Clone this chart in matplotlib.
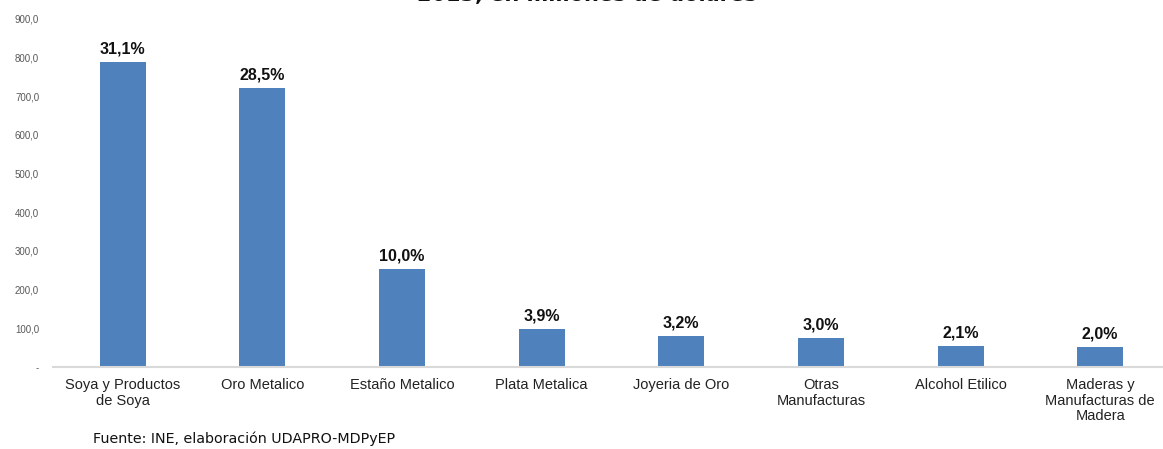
import matplotlib
matplotlib.use("Agg")
import matplotlib.pyplot as plt
from matplotlib.ticker import FuncFormatter

categories = ["Soya y Productos\nde Soya", "Oro Metalico", "Estaño Metalico", "Plata Metalica",
              "Joyeria de Oro", "Otras\nManufacturas", "Alcohol Etilico",
              "Maderas y\nManufacturas de\nMadera"]
values = [789.0, 722.0, 253.0, 98.0, 80.0, 75.0, 54.0, 51.0]
shares = ["31,1%", "28,5%", "10,0%", "3,9%", "3,2%", "3,0%", "2,1%", "2,0%"]
yticks = [0, 100, 200, 300, 400, 500, 600, 700, 800, 900]

W, H = 1163, 449
fig = plt.figure(figsize=(W/100, H/100), dpi=100)
# axes in pixel coords: left 53, right 1170, bottom y=367, top y=19
ax = fig.add_axes([53/W, (H-367)/H, (1170-53)/W, (367-19)/H])
x = list(range(len(categories)))
ax.bar(x, values, width=0.33, color="#4F81BD", zorder=2)
ax.set_xlim(-0.5, len(categories)-0.5)
ax.set_ylim(0, 900)
ax.set_yticks(yticks)
ax.yaxis.set_major_formatter(FuncFormatter(lambda v, p: "-" if v == 0 else f"{v:.1f}".replace(".", ",")))
ax.tick_params(axis="y", length=0, labelsize=7, labelcolor="#595959", pad=10)
ax.tick_params(axis="x", length=0, pad=8)
ax.set_xticks(x)
ax.set_xticklabels(categories, fontsize=10.5, family="Liberation Sans", color="#222222", linespacing=1.15)
for lbl in ax.get_yticklabels():
    lbl.set_family("Liberation Sans")
for s in ["top", "right", "left"]:
    ax.spines[s].set_visible(False)
ax.spines["bottom"].set_color("#d9d9d9")
ax.spines["bottom"].set_linewidth(1.5)

for xi, v, s in zip(x, values, shares):
    ax.annotate(s, (xi, v), xytext=(0, 4), textcoords="offset points", ha="center", va="bottom",
                fontsize=11.5, fontweight="bold", family="Liberation Sans", color="#111111")

fig.text(0.5*(415+758)/W, 1 - 0.5/H, "2013, en millones de dolares", ha="center", va="baseline",
         fontsize=15, fontweight="bold", family="DejaVu Sans", color="#111111")
fig.text(93/W, 1 - 439/H, "Fuente: INE, elaboración UDAPRO-MDPyEP", ha="left", va="center",
         fontsize=10.3, family="DejaVu Sans", color="#111111")

fig.savefig("out.png", dpi=100)
